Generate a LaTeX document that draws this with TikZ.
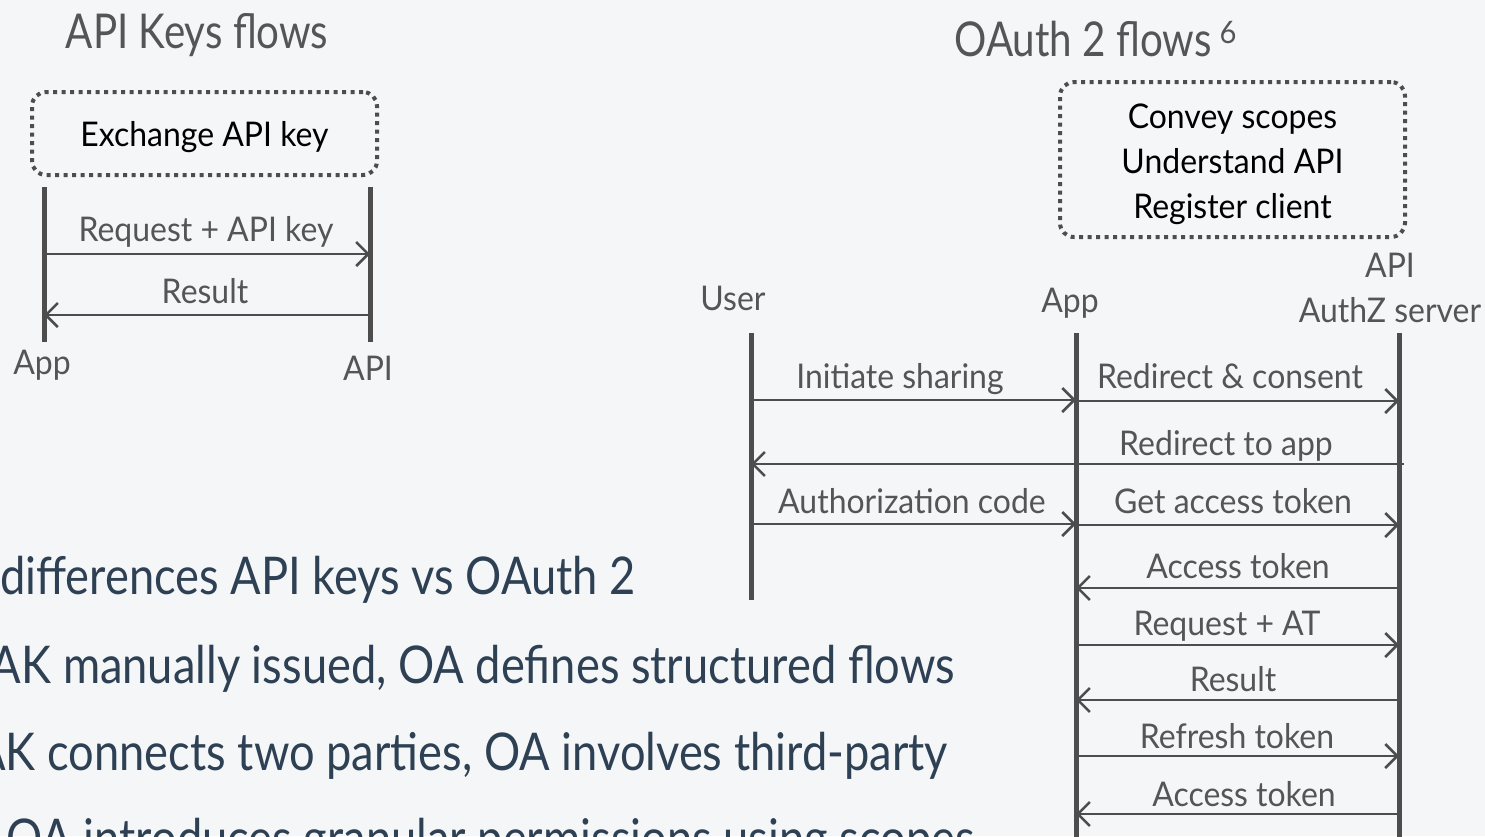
\documentclass[tikz,border=0pt]{standalone}
\usepackage{fontspec}
\setmainfont{Lato}[FakeStretch=0.94]
\newfontfamily\headfont{Lato}[FakeStretch=0.84]
\newfontfamily\bodyfont{Lato}[FakeStretch=0.87]
\usetikzlibrary{arrows.meta}

\definecolor{bgcol}{HTML}{F5F6F8}
\definecolor{linecol}{HTML}{4D4D4D}
\definecolor{labcol}{HTML}{555555}
\definecolor{bodycol}{HTML}{2E4053}

\tikzset{
  lifeline/.style={line width=5pt, draw=linecol},
  msg/.style={line width=2.5pt, draw=linecol, -{Straight Barb[length=12pt,width=24pt]}},
  msglabel/.style={anchor=base, text=labcol, font=\fontsize{34}{40}\selectfont, inner sep=0pt},
  party/.style={anchor=base, text=labcol, font=\fontsize{34}{45}\selectfont, inner sep=0pt, align=center},
  notebox/.style={draw=linecol, line width=4pt, dash pattern=on 4pt off 4.5pt, rounded corners=14pt,
    text=black, font=\fontsize{34}{45}\selectfont},
  heading/.style={anchor=base, text=labcol, font=\headfont\fontsize{48}{56}\selectfont, inner sep=0pt},
  bodyline/.style={anchor=base east, text=bodycol, font=\bodyfont\fontsize{52}{60}\selectfont, inner sep=0pt}
}

\begin{document}
\begin{tikzpicture}[x=1pt,y=-1pt]
\useasboundingbox (0,0) rectangle (1485,836);
\fill[bgcol] (0,0) rectangle (1485,836);
\clip (0,0) rectangle (1485,836);

% API keys side
\node[heading] (akTitle) at (197,48) {API Keys flows};
\node[notebox, minimum width=345pt, minimum height=83pt] (akBox) at (204.5,133.5)
  {\raisebox{-4pt}[\height][\depth]{Exchange API key}};

\coordinate (akAppTop) at (44,187);
\coordinate (akAppBot) at (44,342);
\coordinate (akApiTop) at (370,187);
\coordinate (akApiBot) at (370,342);
\draw[lifeline] (akAppTop) -- (akAppBot);
\draw[lifeline] (akApiTop) -- (akApiBot);
\node[party] (akApp) at (42,374) {App};
\node[party] (akApi) at (368,380) {API};

\coordinate (ak1) at (0,254);
\coordinate (ak2) at (0,315);
\draw[msg] (akAppTop |- ak1) -- (akApiTop |- ak1);
\draw[msg] (akApiTop |- ak2) -- (akAppTop |- ak2);
\node[msglabel] (akReq) at (206,241) {Request + API key};
\node[msglabel] (akRes) at (205,303) {Result};

% OAuth 2 side
\node[heading] (oaTitle) at (1083,56) {OAuth 2 flows};
\node[anchor=base, text=labcol, font=\fontsize{31}{34}\selectfont, inner sep=0pt] (oaNote) at (1228,43) {6};
\node[notebox, minimum width=345pt, minimum height=155pt] (oaBox) at (1232.5,159.5)
  {\raisebox{-5pt}[\height][\depth]{\begin{tabular}{@{}c@{}}Convey scopes\\Understand API\\Register client\end{tabular}}};

\node[party] (user) at (733,310) {User};
\node[party] (app) at (1070,312) {App};
\node[party] (authz) at (1390,322) {API\\AuthZ server};

\coordinate (userTop) at (751,333);
\coordinate (userBot) at (751,600);
\coordinate (appTop) at (1076,333);
\coordinate (appBot) at (1076,840);
\coordinate (apiTop) at (1399,333);
\coordinate (apiBot) at (1399,840);
\coordinate (apiEdge) at (1404,333);
\draw[lifeline] (userTop) -- (userBot);
\draw[lifeline] (appTop) -- (appBot);
\draw[lifeline] (apiTop) -- (apiBot);

\coordinate (m1) at (0,400);
\coordinate (m2) at (0,401);
\coordinate (m3) at (0,464);
\coordinate (m4) at (0,524);
\coordinate (m5) at (0,525);
\coordinate (m6) at (0,588);
\coordinate (m7) at (0,645);
\coordinate (m8) at (0,700);
\coordinate (m9) at (0,756);
\coordinate (m10) at (0,814);

\draw[msg] (userTop |- m1) -- (appTop |- m1);
\draw[msg] (appTop |- m2) -- (apiTop |- m2);
\draw[msg] (apiEdge |- m3) -- (userTop |- m3);
\draw[msg] (userTop |- m4) -- (appTop |- m4);
\draw[msg] (appTop |- m5) -- (apiTop |- m5);
\draw[msg] (apiTop |- m6) -- (appTop |- m6);
\draw[msg] (appTop |- m7) -- (apiTop |- m7);
\draw[msg] (apiTop |- m8) -- (appTop |- m8);
\draw[msg] (appTop |- m9) -- (apiTop |- m9);
\draw[msg] (apiTop |- m10) -- (appTop |- m10);

\node[msglabel] (l1) at (900,388) {Initiate sharing};
\node[msglabel] (l2) at (1230,388) {Redirect \& consent};
\node[msglabel] (l3) at (1226,455) {Redirect to app};
\node[msglabel] (l4) at (912,513) {Authorization code};
\node[msglabel] (l5) at (1233,513) {Get access token};
\node[msglabel] (l6) at (1238,578) {Access token};
\node[msglabel] (l7) at (1227,635) {Request + AT};
\node[msglabel] (l8) at (1233,691) {Result};
\node[msglabel] (l9) at (1237,748) {Refresh token};
\node[msglabel] (l10) at (1244,806) {Access token};

% bottom text
\node[bodyline] (b1) at (636,594) {differences API keys vs OAuth 2};
\node[bodyline] (b2) at (955,683) {AK manually issued, OA defines structured flows};
\node[bodyline] (b3) at (948,770) {AK connects two parties, OA involves third-party};
\node[bodyline] (b4) at (975,856) {OA introduces granular permissions using scopes};
\end{tikzpicture}
\end{document}
